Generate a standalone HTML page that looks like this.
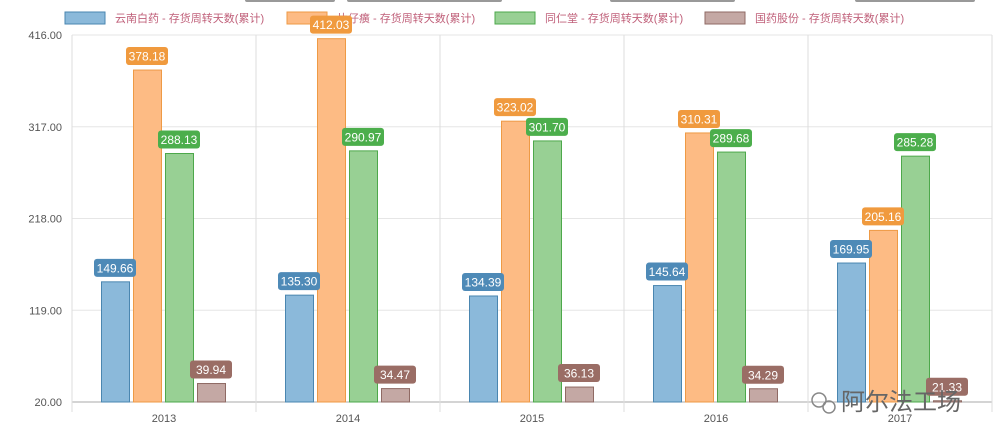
<!DOCTYPE html>
<html><head><meta charset="utf-8"><style>
body{margin:0;background:#fff;}
svg{display:block;font-family:"Liberation Sans","Noto Sans CJK SC",sans-serif;}
</style></head><body>
<svg id="chart" width="1000" height="446">
<g fill="#999">
<rect x="245" y="-3" width="90" height="5" rx="2"/>
<rect x="347" y="-3" width="155" height="5" rx="2"/>
<rect x="610" y="-3" width="125" height="5" rx="2"/>
<rect x="855" y="-3" width="120" height="5" rx="2"/>
</g>
<g id="legend"></g>
<g id="grid"></g>
<g id="bars"></g>
<g id="axes"></g>
<g id="labels"></g>
<g>
<circle cx="819" cy="400" r="7" fill="none" stroke="#888" stroke-width="1.5"/>
<circle cx="829" cy="407" r="6" fill="none" stroke="#888" stroke-width="1.5"/>
<text x="841" y="410" font-size="24" fill="#666">阿尔法工场</text>
</g>
</svg>
<script>
const categories=["2013","2014","2015","2016","2017"];
const seriesNames=["云南白药 - 存货周转天数(累计)","片仔癀 - 存货周转天数(累计)","同仁堂 - 存货周转天数(累计)","国药股份 - 存货周转天数(累计)"];
const yunnan=[149.66,135.30,134.39,145.64,169.95];
const pianzai=[378.18,412.03,323.02,310.31,205.16];
const tongren=[288.13,290.97,301.70,289.68,285.28];
const guoyao=[39.94,34.47,36.13,34.29,21.33];
const yTicks=[20,119,218,317,416];
const series=[yunnan,pianzai,tongren,guoyao];
const fills=["#8bb9da","#fdbb84","#98d094","#c4a8a4"];
const strokes=["#4a86b0","#ee9a45","#4da84b","#8f6a64"];
const tagCol=["#4e8ab7","#f09a3e","#4cae4c","#9a6d65"];
const NS="http://www.w3.org/2000/svg";
const X0=72,BW=184,Y0=402,YMIN=20,YMAX=416,YTOP=35;
const y=v=>Y0-(v-YMIN)/(YMAX-YMIN)*(Y0-YTOP);
const xc=i=>X0+BW*(i+0.5);
function el(t,a,p){const e=document.createElementNS(NS,t);for(const k in a)e.setAttribute(k,a[k]);p.appendChild(e);return e;}
const G=id=>document.getElementById(id);
yTicks.forEach(v=>{
 const l=el('line',{x1:X0,x2:992,y1:y(v),y2:y(v),stroke:v===YMIN?'#aaa':'#e6e6e6'},G('grid'));
 
 
 const t=el('text',{x:62,y:y(v)+4,'text-anchor':'end','font-size':11,fill:'#555'},G('axes'));
 t.textContent=v.toFixed(2);
 
 
});
for(let i=0;i<=categories.length;i++){
 const x=X0+BW*i;
 const l=el('line',{x1:x,x2:x,y1:YTOP,y2:412,stroke:'#ddd'},G('grid'));
 
 
}
categories.forEach((c,i)=>{
 const t=el('text',{x:xc(i),y:422,'text-anchor':'middle','font-size':11,fill:'#555'},G('axes'));
 t.textContent=c;
 
 
});
const offs=[-63,-31,1,33];
series.forEach((s,k)=>{
 s.forEach((v,i)=>{
  const x=xc(i)+offs[k];
  const r=el('rect',{x:x+0.5,y:y(v),width:28,height:Y0-y(v),fill:fills[k],stroke:strokes[k],'stroke-width':1},G('bars'));
  
  
  const ly=y(v)-23;
  const lr=el('rect',{x:x+14-21,y:ly,width:42,height:18,rx:3,fill:tagCol[k]},G('labels'));
  
  
  const t=el('text',{x:x+14,y:ly+13.5,'text-anchor':'middle','font-size':12,fill:'#fff'},G('labels'));
  t.textContent=v.toFixed(2);
  
  
 });
});
const lx=[65,287,495,705];
seriesNames.forEach((n,k)=>{
 const r=el('rect',{x:lx[k],y:12,width:40,height:12,fill:fills[k],stroke:strokes[k]},G('legend'));
 
 
 const t=el('text',{x:lx[k]+50,y:22,'font-size':11,fill:'#c0607a'},G('legend'));
 t.textContent=n;
 
 
});
</script>
</body></html>
